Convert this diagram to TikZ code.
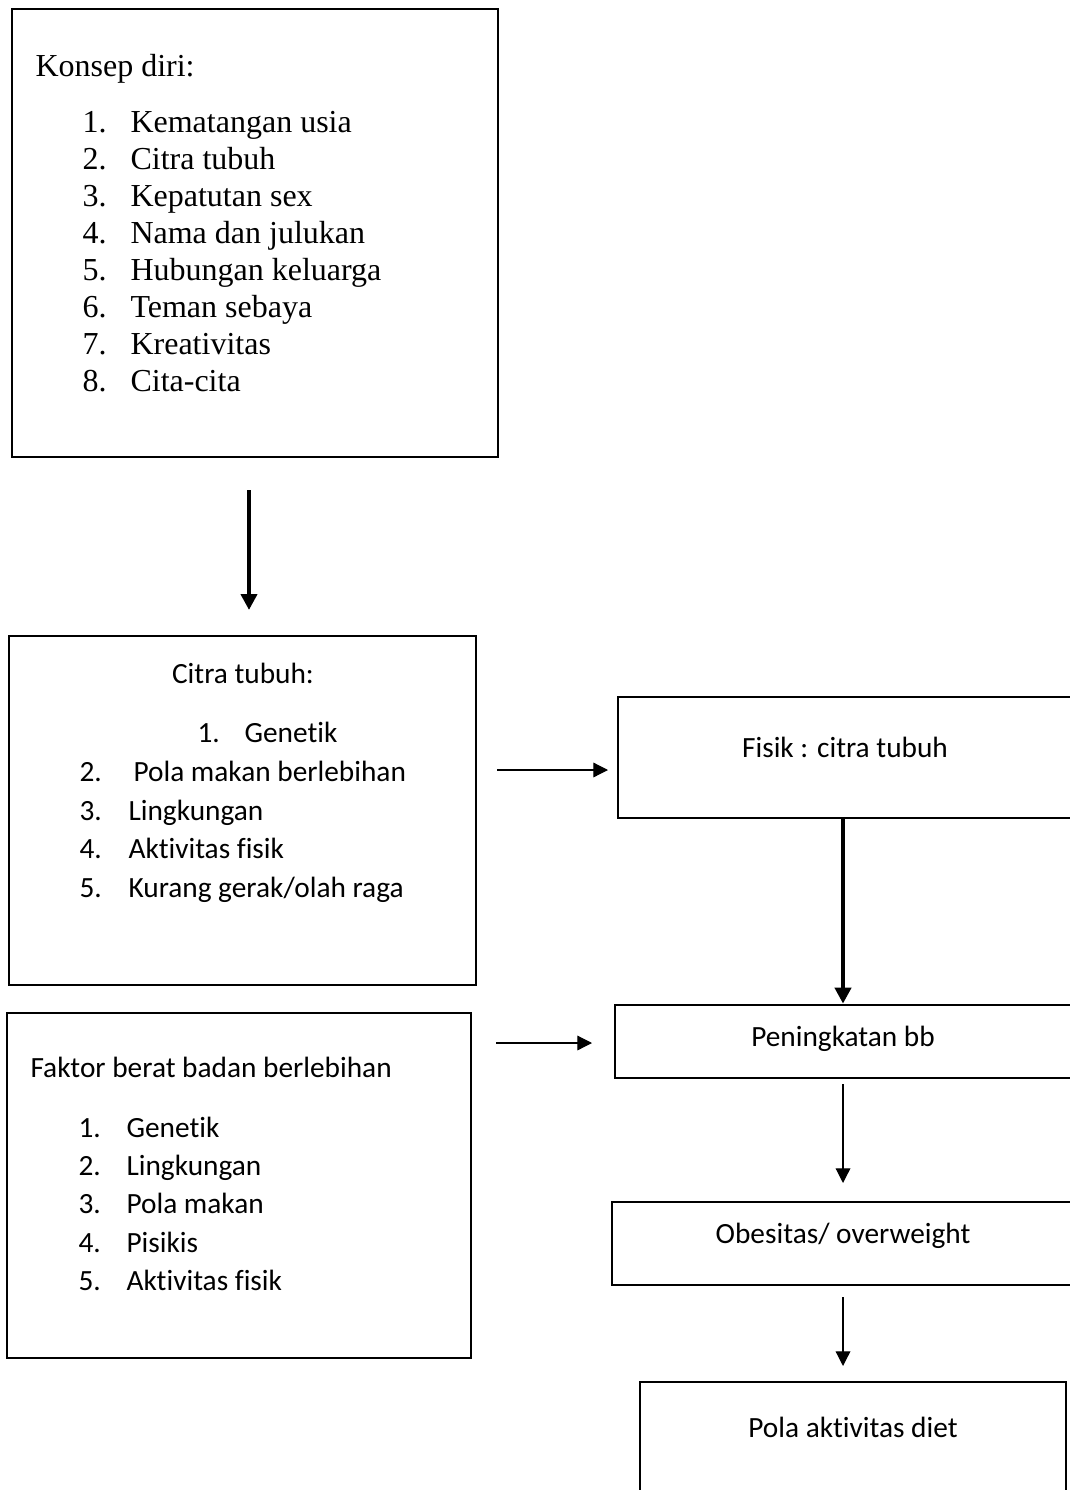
\documentclass[tikz,border=0pt]{standalone}
\usepackage{fontspec}
\setmainfont{Liberation Serif}
\newfontfamily\calibri[Ligatures={NoCommon,NoContextual}]{Carlito}
\usetikzlibrary{arrows.meta}

\tikzset{
  kotak/.style={draw, line width=1pt, inner sep=0pt},
  teks/.style={anchor=base west, inner sep=0pt, font=\fontsize{12}{14}\selectfont},
  teksc/.style={anchor=base west, inner sep=0pt, font=\calibri\fontsize{11}{13}\selectfont},
  tengah/.style={anchor=base, inner sep=0pt, font=\calibri\fontsize{11}{13}\selectfont},
  panah/.style={-{Triangle[length=5.5pt,width=5.5pt]}, line width=0.45pt},
  panahtebal/.style={-{Triangle[length=6pt,width=6pt]}, line width=1.5pt},
}

\begin{document}
\begin{tikzpicture}[x=0.375pt,y=-0.375pt]

      \useasboundingbox (0,0) rectangle (1069,1490);

      % kotak
      \begin{scope}[every node/.style={kotak}]
        \node (konsep) at (255,233)      [minimum width=182.25pt, minimum height=168pt] {};
        \node (citra)  at (242.5,810.5)  [minimum width=175.1pt, minimum height=130.9pt] {};
        \node (faktor) at (239,1185.5)   [minimum width=174pt, minimum height=129.4pt] {};
        \node (fisik)  at (846.5,757.5)  [minimum width=171.4pt, minimum height=45.4pt] {};
        \node (naik)   at (845,1041.5)   [minimum width=172.5pt, minimum height=27.4pt] {};
        \node (obes)   at (843.5,1243.5) [minimum width=173.6pt, minimum height=31.1pt] {};
        \node (diet)   at (853,1441)     [minimum width=159.75pt, minimum height=44.25pt] {};
      \end{scope}

      % teks konsep diri
      \node[teks] (konsepT) at (35,77) {Konsep diri:};
      \foreach \n/\t in {1/Kematangan usia, 2/Citra tubuh, 3/Kepatutan sex,
                         4/Nama dan julukan, 5/Hubungan keluarga, 6/Teman sebaya,
                         7/Kreativitas, 8/Cita-cita} {
        \node[teks] (kn\n) at (82,{96+37*\n}) {\n.};
        \node[teks] (k\n)  at (130,{96+37*\n}) {\t};
      }

      % teks citra tubuh
      \node[tengah] (citraT) at (243,683) {Citra tubuh:};
      \node[teksc] (cn1) at (197,742) {1.};
      \node[teksc] (c1)  at (244,742) {Genetik};
      \node[teksc] (cn2) at (79,781) {2.};
      \node[teksc] (c2)  at (133,781) {Pola makan berlebihan};
      \foreach \n/\y/\t in {3/820/Lingkungan, 4/858/Aktivitas fisik, 5/897/{Kurang gerak/olah raga}} {
        \node[teksc] (cn\n) at (79,\y) {\n.};
        \node[teksc] (c\n)  at (128,\y) {\t};
      }

      % teks faktor
      \node[teksc] (faktorT) at (30,1077) {Faktor berat badan berlebihan};
      \foreach \n/\y/\t in {1/1137/Genetik, 2/1175/Lingkungan, 3/1213/Pola makan,
                            4/1252/Pisikis, 5/1290/Aktivitas fisik} {
        \node[teksc] (fn\n) at (78,\y) {\n.};
        \node[teksc] (f\n)  at (126,\y) {\t};
      }

      % teks kanan
      \node[tengah] (fisikT) at (845,757)  {Fisik : citra tubuh};
      \node[tengah] (naikT)  at (843,1046) {Peningkatan bb};
      \node[tengah] (obesT)  at (843,1243) {Obesitas/ overweight};
      \node[tengah] (dietT)  at (853,1437) {Pola aktivitas diet};

      % panah
      \coordinate (a1) at (249,490);
      \coordinate (a2) at (249,610);
      \coordinate (b1) at (497,770);
      \coordinate (b2) at (608,770);
      \coordinate (d1) at (496,1043);
      \coordinate (d2) at (592,1043);
      \coordinate (e1) at (843,1084);
      \coordinate (e2) at (843,1183);
      \coordinate (g1) at (843,1297);
      \coordinate (g2) at (843,1366);

      \draw[panahtebal] (a1) -- (a2);
      \draw[panah] (b1) -- (b2);
      \draw[panahtebal] (fisik.south -| e1) -- (naik.north -| e1);
      \draw[panah] (d1) -- (d2);
      \draw[panah] (e1) -- (e2);
      \draw[panah] (g1) -- (g2);

    \end{tikzpicture}
\end{document}
